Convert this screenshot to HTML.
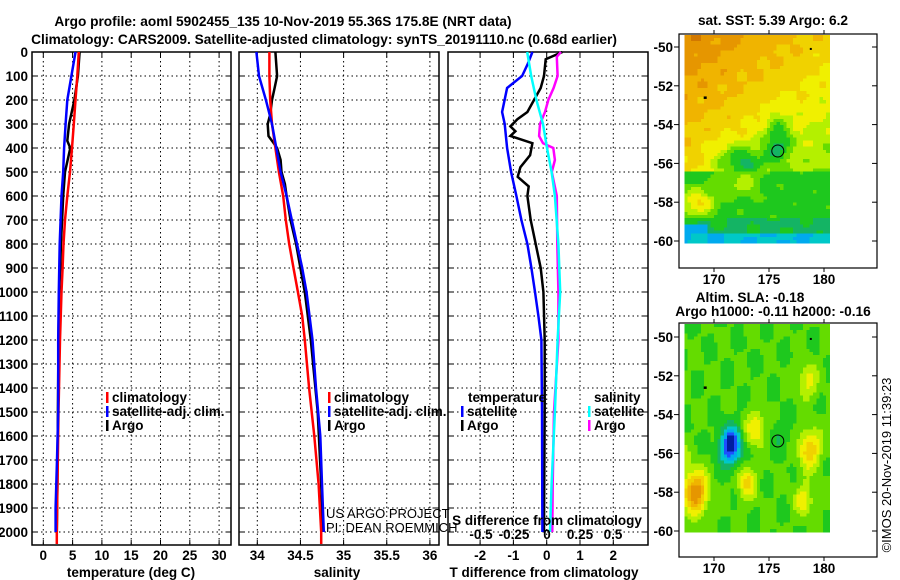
<!DOCTYPE html>
<html><head><meta charset="utf-8"><style>
body{margin:0;background:#fff;}
svg{display:block;font-family:"Liberation Sans",Arial,sans-serif;}
.b{font-weight:bold;font-size:13.7px;}
.t{font-weight:bold;font-size:13.5px;}
</style></head><body>
<svg id="c" width="900" height="580" viewBox="0 0 900 580">
<text class="b" x="283" y="26" text-anchor="middle">Argo profile: aoml 5902455_135 10-Nov-2019 55.36S 175.8E (NRT data)</text>
<text class="b" x="324" y="44" text-anchor="middle">Climatology: CARS2009. Satellite-adjusted climatology: synTS_20191110.nc (0.68d earlier)</text>
<text class="b" x="773" y="25" text-anchor="middle">sat. SST: 5.39 Argo: 6.2</text>
<text class="b" x="750" y="302" text-anchor="middle">Altim. SLA: -0.18</text>
<text class="b" x="773" y="316" text-anchor="middle">Argo h1000: -0.11 h2000: -0.16</text>
<text x="891" y="465" font-size="13" text-anchor="middle" transform="rotate(-90 891 465)">©IMOS 20-Nov-2019 11:39:23</text>
<g id="plots"></g>
</svg>
<script>
// ---- data ----
const depthTicks=[0,100,200,300,400,500,600,700,800,900,1000,1100,1200,1300,1400,1500,1600,1700,1800,1900,2000];
const tempTicks=[0,5,10,15,20,25,30];
const salTicks=[34,34.5,35,35.5,36];
const salTickLabels=["34","34.5","35","35.5","36"];
const dTTicks=[-2,-1,0,1,2];
const dSTicks=[-0.5,-0.25,0,0.25,0.5];
const dSTickLabels=["-0.5","-0.25","0","0.25","0.5"];

const tArgoD=[0,100,200,300,370,400,500,600,700,800,900,1000,1200,1500,1800,2000];
const tArgo=[6.2,5.9,5.3,4.4,4.1,4.6,3.7,3.4,3.2,3.0,2.9,2.7,2.6,2.5,2.4,2.3];
const tClimD=[0,100,200,300,400,500,600,700,800,900,1000,1200,1500,2000,2050];
const tClim=[6.05,5.8,5.5,5.2,4.9,4.55,4.1,3.7,3.45,3.3,3.1,2.85,2.6,2.3,2.3];
const tSatD=[0,100,200,300,400,500,600,700,800,1000,1200,1500,1700,1900,2000];
const tSat=[5.5,4.8,4.1,3.8,3.55,3.4,3.1,2.95,2.8,2.65,2.55,2.55,2.33,2.1,2.1];

const sArgoD=[0,100,150,200,260,300,350,380,400,450,500,550,600,700,800,900,1000,1200,1500,1800,2000];
const sArgo=[34.21,34.23,34.2,34.17,34.15,34.12,34.13,34.19,34.23,34.27,34.28,34.32,34.34,34.385,34.45,34.5,34.55,34.62,34.7,34.74,34.76];
const sClimD=[0,100,200,300,400,500,600,700,800,900,1000,1100,1200,1400,1600,1800,2000,2050];
const sClim=[34.14,34.14,34.15,34.17,34.21,34.25,34.3,34.33,34.37,34.42,34.47,34.52,34.55,34.6,34.66,34.71,34.74,34.74];
const sSatD=[0,100,200,300,400,500,600,700,800,900,1000,1200,1400,1600,1800,2000];
const sSat=[33.99,34.02,34.1,34.17,34.22,34.27,34.34,34.4,34.46,34.52,34.57,34.64,34.68,34.73,34.75,34.77];

const dTSatD=[0,50,100,150,250,300,400,500,600,700,800,900,1000,1100,1200,1500,2000];
const dTSat=[-0.43,-0.57,-0.74,-1.19,-1.34,-1.26,-1.19,-1.07,-0.91,-0.76,-0.58,-0.46,-0.35,-0.25,-0.16,-0.14,-0.13];
const dTArgoD=[0,30,100,150,200,250,280,310,330,350,380,430,480,520,560,600,700,800,900,1000,1200,1500,2000];
const dTArgo=[0.47,-0.03,-0.08,-0.18,-0.38,-0.58,-0.88,-1.09,-0.94,-1.09,-0.43,-0.5,-0.79,-0.87,-0.54,-0.58,-0.48,-0.33,-0.18,-0.1,-0.06,-0.06,-0.08];
const dSSatD=[0,100,200,300,400,500,600,800,1000,1200,1500,1800,2000];
const dSSat=[-0.15,-0.12,-0.08,-0.03,0.0,0.035,0.06,0.086,0.1,0.08,0.06,0.035,0.023];
const dSArgoD=[0,20,100,150,200,250,300,350,380,400,450,500,600,800,1000,1200,1500,1800,2000];
const dSArgo=[0.105,0.074,0.08,0.05,0.01,-0.015,-0.053,-0.06,-0.03,0.048,0.06,0.036,0.074,0.078,0.086,0.086,0.053,0.043,0.04];

const lonTicks=[170,175,180];
const latTicks=[-50,-52,-54,-56,-58,-60];
const argoLon=175.8, argoLat=-55.36;

// ---- helpers ----
const NS="http://www.w3.org/2000/svg";
const G=document.getElementById('plots');
function el(tag,attrs,parent){const e=document.createElementNS(NS,tag);for(const k in attrs)e.setAttribute(k,attrs[k]);(parent||G).appendChild(e);return e;}
const Y=d=>52+d*0.24;
const xT=v=>43.3+v*5.86;
const xS=v=>257.3+(v-34)*86.3;
const xDT=v=>546.7+v*33.3;
const xDS=v=>547+v*132;

function frame(x0,x1,name){
  depthTicks.forEach(d=>{
    const l=el('line',{x1:x0,x2:x1,y1:Y(d),y2:Y(d),stroke:'#000','stroke-width':1,'stroke-dasharray':'1.5,3'});
    
    el('line',{x1:x0,x2:x0+5,y1:Y(d),y2:Y(d),stroke:'#000'});
    el('line',{x1:x1-5,x2:x1,y1:Y(d),y2:Y(d),stroke:'#000'});
  });
  const r=el('rect',{x:x0,y:52,width:x1-x0,height:493,fill:'none',stroke:'#000','stroke-width':1.5});
  
}
function vgrid(xs,name){
  xs.forEach(x=>{
    const l=el('line',{x1:x,x2:x,y1:52,y2:545,stroke:'#000','stroke-width':1,'stroke-dasharray':'1.5,3'});
    
    el('line',{x1:x,x2:x,y1:52,y2:57,stroke:'#000'});el('line',{x1:x,x2:x,y1:540,y2:545,stroke:'#000'});
  });
}
function label(x,y,s,name,anchor,cls){
  const t=el('text',{x:x,y:y,'text-anchor':anchor||'middle','class':cls||'t'});t.textContent=s;
  return t;
}
function line(ds,vs,fx,color,name,w){
  const pts=ds.map((d,i)=>fx(vs[i]).toFixed(1)+','+Y(d).toFixed(1)).join(' ');
  const p=el('polyline',{points:pts,fill:'none',stroke:color,'stroke-width':w||2.5});
  
}
function legend(x,y,color,s,name){
  const r=el('rect',{x:x,y:y-10,width:2.5,height:11,fill:color});
  
  label(x+6,y,s,name,'start');
}

depthTicks.forEach(d=>label(28,Y(d)+5,String(d),'depth-tick-label','end'));

// panel 1 temperature
vgrid(tempTicks.map(xT),'temp');frame(32,231,'temp-panel');
line(tArgoD,tArgo,xT,'#000','temp-argo-line');
line(tClimD,tClim,xT,'#f00','temp-climatology-line');
line(tSatD,tSat,xT,'#00f','temp-satellite-line');
tempTicks.forEach(v=>label(xT(v),560,String(v),'temp-tick-label'));
label(131,577,'temperature (deg C)','temp-axis-title');
legend(106,402,'#f00','climatology','legend-climatology');
legend(106,416,'#00f','satellite-adj. clim.','legend-satellite');
legend(106,430,'#000','Argo','legend-argo');

// panel 2 salinity
vgrid(salTicks.map(xS),'sal');frame(239,439,'sal-panel');
line(sArgoD,sArgo,xS,'#000','sal-argo-line');
line(sClimD,sClim,xS,'#f00','sal-climatology-line');
line(sSatD,sSat,xS,'#00f','sal-satellite-line');
salTicks.forEach((v,i)=>label(xS(v),560,salTickLabels[i],'sal-tick-label'));
label(337,577,'salinity','sal-axis-title');
legend(328,402,'#f00','climatology','legend-sal-climatology');
legend(328,416,'#00f','satellite-adj. clim.','legend-sal-satellite');
legend(328,430,'#000','Argo','legend-sal-argo');
label(326,518,'US ARGO PROJECT','credit-project','start','n').setAttribute('font-size','13');
label(326,532,'PI: DEAN ROEMMICH','credit-pi','start','n').setAttribute('font-size','13');

// panel 3 differences
vgrid(dTTicks.map(xDT),'diff');frame(448,648,'diff-panel');
line(dTArgoD,dTArgo,xDT,'#000','dT-argo-line');
line(dTSatD,dTSat,xDT,'#00f','dT-satellite-line');
line(dSArgoD,dSArgo,xDS,'#f0f','dS-argo-line');
line(dSSatD,dSSat,xDS,'#0ff','dS-satellite-line');
dTTicks.forEach(v=>label(xDT(v),560,String(v),'dT-tick-label'));
dSTicks.forEach((v,i)=>label(xDS(v),539,dSTickLabels[i],'dS-tick-label'));
label(547,525,'S difference from climatology','dS-axis-title');
label(544,577,'T difference from climatology','dT-axis-title');
label(468,402,'temperature','legend-temp-heading','start');
legend(461,416,'#00f','satellite','legend-dT-satellite');
legend(461,430,'#000','Argo','legend-dT-argo');
label(594,402,'salinity','legend-sal-heading','start');
legend(588,416,'#0ff','satellite','legend-dS-satellite');
legend(588,430,'#f0f','Argo','legend-dS-argo');

// ---- maps ----
const cmap=['#1e50ff','#00aaee','#00c8c8','#14b464','#1ec81e','#64dc00','#b4f000','#f0f000','#f0d200','#f0b400','#e69600','#d27800'];
function col(t){if(t<0)return '#001ea0';t=Math.min(0.999,t);return cmap[Math.floor(t*cmap.length)];}
function sstField(lon,lat){
  const n=0.02*Math.sin(lon*2.3+lat*3.1)+0.02*Math.sin(lon*1.7-lat*4.9);
  let t;
  if(lat>-56.5){
    t=0.58+0.2*(lat+56)/6+0.12*(175-lon)/8+n;
    const g=Math.exp(-((lon-172.5)**2)/5-((lat+55.9)**2)/0.8)+Math.exp(-((lon-175.8)**2)/1.5-((lat+54.8)**2)/1.5);
    t-=0.3*Math.min(1,g);
  } else {
    t=0.38+n;
    t+=0.3*Math.exp(-((lon-168.5)**2)/2.5-((lat+58)**2)/0.5);
    t+=0.15*Math.exp(-((lon-172.5)**2)/3-((lat+57)**2)/0.6);
    if(lat<-58.8) t-=0.06;
    if(lat<-59.2&&lon<169.5) t=0.12;
    if(lat<-59.7) t=0.17+n;
  }
  return t;
}
function slaField(lon,lat){
  const n=0.02*Math.sin(lon*1.9+lat*2.3)+0.02*Math.sin(lon*2.7-lat*1.6);
  let t=0.42+n;
  const bumps=[[171.5,-55.6,-0.5,0.9],[168.3,-58,0.5,1.2],[173.8,-54.7,0.25,0.8],[173,-57.5,0.27,0.7],[178.7,-55.8,0.32,1.0],[178.5,-52.3,0.2,0.8],[178.2,-58.4,0.22,0.7],[167,-56,0.15,0.4],[176,-55,-0.08,0.8]];
  bumps.forEach(b=>{t+=b[2]*Math.exp(-(((lon-b[0])**2)+((lat-b[1])**2))/b[3]);});
  return t;
}
function map(top,lat50y,field,name){
  const x0=679,x1=877,yTop=top,yBot=top+234;
  const LX=lon=>714+(lon-170)*11;
  const LY=lat=>lat50y+(-50-lat)*19.4;
  const g=el('g',{'shape-rendering':'crispEdges'});
  const latTop=-50-(yTop+1-lat50y)/19.4;
  for(let lon=167.3;lon<180.3;lon+=0.3){
    for(let lat=latTop;lat>-60.0;lat-=0.16){
      el('rect',{x:LX(lon).toFixed(1),y:LY(lat).toFixed(1),width:3.6,height:3.4,fill:col(field(lon+0.15,lat-0.08))},g);
    }
  }
  const c=el('circle',{cx:LX(argoLon),cy:LY(argoLat),r:6,fill:'none',stroke:'#000','stroke-width':1});
  
  el('rect',{x:LX(169.2)-1.5,y:LY(-52.6)-1,width:3,height:2.5,fill:'#000'});
  el('rect',{x:LX(178.8)-1,y:LY(-50.1)-1,width:2,height:2,fill:'#000'});
  const f=el('rect',{x:x0,y:yTop,width:x1-x0,height:yBot-yTop,fill:'none',stroke:'#000','stroke-width':1.2});
  
  lonTicks.forEach(l=>{el('line',{x1:LX(l),x2:LX(l),y1:yTop-4,y2:yTop,stroke:'#000'});el('line',{x1:LX(l),x2:LX(l),y1:yBot,y2:yBot+4,stroke:'#000'});
    label(LX(l),yBot+16,String(l),name+'-lon-label');});
  latTicks.forEach(l=>{el('line',{x1:x0-5,x2:x0,y1:LY(l),y2:LY(l),stroke:'#000'});el('line',{x1:x1-5,x2:x1,y1:LY(l),y2:LY(l),stroke:'#000'});
    label(x0-6,LY(l)+5,String(l),name+'-lat-label','end');});
}
map(34,47,sstField,'sst-map');
map(323,337,slaField,'sla-map');
</script>
</body></html>
